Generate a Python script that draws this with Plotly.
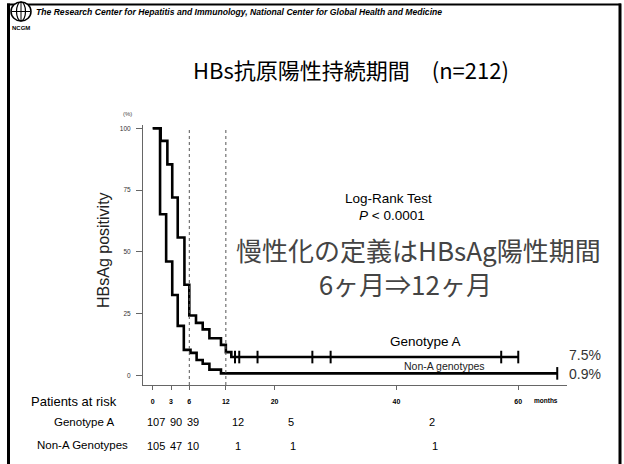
import plotly.graph_objects as go

# ---------------- data ----------------
genoA_time = [0, 1.3, 2.4, 3.2, 4.1, 5.2, 6.0, 7.1, 8.2, 9.3, 11.2, 12.0, 12.9, 60]
genoA_surv = [100, 94.9, 85.4, 72.0, 55.8, 36.7, 24.3, 21.3, 18.7, 15.1, 12.4, 9.5, 7.5, 7.5]
genoA_censor = [13.5, 14.2, 17.2, 26.2, 29.2, 57.2, 60]

nonA_time = [0, 1.2, 2.2, 3.2, 4.1, 5.1, 6.2, 7.2, 8.2, 9.3, 11.2, 66.4]
nonA_surv = [100, 65.2, 46.1, 32.6, 20.1, 10.4, 9.2, 6.3, 4.8, 2.4, 0.9, 0.9]
nonA_censor = [66.4]

x_ticks = [0, 3, 6, 12, 20, 40, 60]
y_ticks = [0, 25, 50, 75, 100]
ref_lines = [6, 12]

risk_A = [107, 90, 39, 12, 5, 2]
risk_nonA = [105, 47, 10, 1, 1, 1]

final_A = "7.5%"
final_nonA = "0.9%"

# ---------------- layout geometry (pixels) ----------------
W, H = 624, 464
L, R, T, B = 143, 567, 125, 385

def px(x):
    return (x - L) / (R - L)

def py(y):
    return (B - y) / (B - T)

LAT = "Liberation Sans, Arial, sans-serif"
CJK = "Noto Sans CJK JP, Noto Sans CJK SC, sans-serif"

fig = go.Figure()

fig.add_trace(go.Scatter(x=genoA_time, y=genoA_surv, mode="lines", line_shape="hv",
                         line=dict(color="black", width=2.6), showlegend=False, hoverinfo="skip"))
fig.add_trace(go.Scatter(x=nonA_time, y=nonA_surv, mode="lines", line_shape="hv",
                         line=dict(color="black", width=2.6), showlegend=False, hoverinfo="skip"))
fig.add_trace(go.Scatter(x=genoA_censor, y=[genoA_surv[-1]] * len(genoA_censor), mode="markers",
                         marker=dict(symbol="line-ns", size=9, line=dict(color="black", width=2)),
                         showlegend=False, hoverinfo="skip"))
fig.add_trace(go.Scatter(x=nonA_censor, y=[nonA_surv[-1]] * len(nonA_censor), mode="markers",
                         marker=dict(symbol="line-ns", size=9, line=dict(color="black", width=2)),
                         showlegend=False, hoverinfo="skip"))

shapes = []
for xv in ref_lines:
    shapes.append(dict(type="line", xref="x", yref="y", x0=xv, x1=xv, y0=-3.8, y1=100,
                       line=dict(color="#555", width=1, dash="dot")))

# slide frame (filled bars)
def frame_bar(x0, y0, x1, y1):
    shapes.append(dict(type="rect", xref="paper", yref="paper", x0=px(x0), x1=px(x1), y0=py(y0), y1=py(y1),
                       line=dict(width=0), fillcolor="black", layer="above"))

frame_bar(7, 3.5, 621, 5.5)
frame_bar(7, 3.5, 10, 464)
frame_bar(618.5, 3.5, 621.5, 464)

# logo globe
shapes.append(dict(type="circle", xref="paper", yref="paper", x0=px(11), x1=px(31), y0=py(21), y1=py(2),
                   line=dict(color="black", width=1.5), fillcolor="white", layer="above"))
shapes.append(dict(type="circle", xref="paper", yref="paper", x0=px(16.5), x1=px(25.5), y0=py(21), y1=py(2),
                   line=dict(color="black", width=1.2), fillcolor="rgba(0,0,0,0)", layer="above"))
shapes.append(dict(type="line", xref="paper", yref="paper", x0=px(21), x1=px(21), y0=py(21), y1=py(2),
                   line=dict(color="black", width=1), layer="above"))
shapes.append(dict(type="line", xref="paper", yref="paper", x0=px(11.5), x1=px(30.5), y0=py(11.5), y1=py(11.5),
                   line=dict(color="black", width=1), layer="above"))

ann = []

def A(text, x, y, size, color="black", family=LAT, xanchor="center", yanchor="middle", **kw):
    ann.append(dict(text=text, x=px(x), y=py(y), xref="paper", yref="paper", showarrow=False,
                    font=dict(size=size, color=color, family=family), xanchor=xanchor, yanchor=yanchor, **kw))

A("<b><i>The Research Center for Hepatitis and Immunology, National Center for Global Health and Medicine</i></b>",
  34, 12, 8.6, xanchor="left")
A("<b>NCGM</b>", 21, 28, 6)
A("HBs抗原陽性持続期間　(n=212)", 351, 69, 22, family=CJK)
A("(%)", 127, 114, 6, color="#444")
A("HBsAg positivity", 103, 250, 16, color="#222", textangle=-90)
A("Log-Rank Test", 388, 198, 13.5)
A("<i>P</i> < 0.0001", 392, 215, 13.5)
A("慢性化の定義はHBsAg陽性期間<br>6ヶ月⇒12ヶ月\u3000", 418, 266, 26, color="#444", family=CJK, align="center")
A("Genotype A", 425, 341, 13.5)
A("Non-A genotypes", 444, 366, 10.5, color="#222")
A(final_A, 585, 355, 14, color="#333")
A(final_nonA, 585, 374, 14, color="#333")
A("<b>months</b>", 546, 400, 6.5)
A("Patients at risk", 74, 401, 13)
A("Genotype A", 84, 422, 11.5)
A("Non-A Genotypes", 82, 445, 11.5)

risk_px = [156, 176, 193, 238, 291, 432]
risk_px_nonA = [156, 176, 193, 238, 293, 435]
for v, xp in zip(risk_A, risk_px):
    A(str(v), xp, 422, 11)
for v, xp in zip(risk_nonA, risk_px_nonA):
    A(str(v), xp, 446, 11)

fig.update_layout(
    width=W, height=H,
    margin=dict(l=L, r=W - R, t=T, b=H - B, autoexpand=False),
    paper_bgcolor="white", plot_bgcolor="white",
    showlegend=False,
    shapes=shapes, annotations=ann,
    xaxis=dict(range=[-1.6, 68], tickvals=x_ticks, ticktext=[f"<b>{t}</b>" for t in x_ticks],
               showgrid=False, zeroline=False, showline=True, linecolor="#666", linewidth=1,
               ticks="outside", ticklen=4, tickcolor="#666", ticklabelstandoff=6,
               tickfont=dict(size=7, family=LAT, color="black")),
    yaxis=dict(range=[-3.8, 101.3], tickvals=y_ticks, showgrid=False, zeroline=False,
               showline=True, linecolor="#666", linewidth=1, ticks="outside", ticklen=6,
               tickcolor="#666", tickfont=dict(size=6.5, family=LAT, color="#333"), ticklabelstandoff=4),
)

fig.write_html("out.html", config={"displayModeBar": False},
               post_script="document.body.style.margin='0px';document.body.style.overflow='hidden';")
